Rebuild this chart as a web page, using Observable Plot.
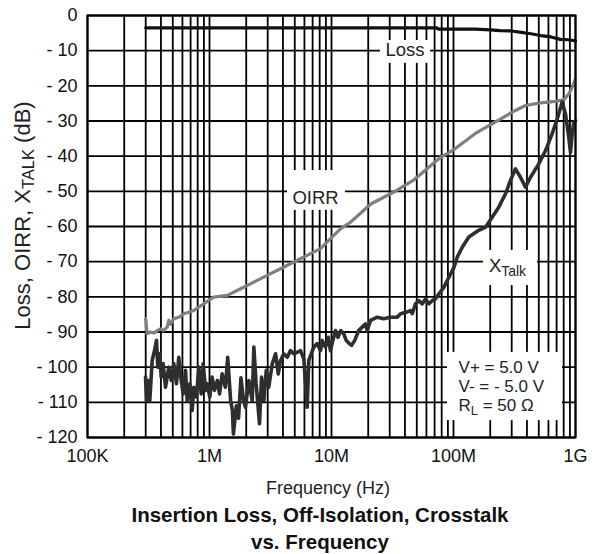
<!DOCTYPE html>
<html>
<head>
<meta charset="utf-8">
<script src="https://cdn.jsdelivr.net/npm/d3@7"></script>
<script src="https://cdn.jsdelivr.net/npm/@observablehq/plot@0.6"></script>
<style>
  body { margin: 0; background: #fff; overflow: hidden; }
  #wrap { width: 595px; position: relative; font-family: "Liberation Sans", Arial, sans-serif; }
  #chart svg { display: block; }
  #title { width: 640px; text-align: center; font-weight: bold; font-size: 20.5px; line-height: 26.5px; color: #111; padding-top: 1px; }
</style>
</head>
<body>
<div id="wrap"><div id="chart"></div><div id="title">Insertion Loss, Off-Isolation, Crosstalk<br>vs. Frequency</div></div>
<script>
// ---- Data ----
const lossFreq = [3e5, 1e6, 1e7, 7.2e7, 7.6e7, 1.5e8, 2.0e8, 2.4e8, 3.0e8, 3.6e8, 4.3e8, 5.2e8, 6.3e8, 7.5e8, 8.6e8, 9.6e8, 1e9];
const lossDb   = [-3.5, -3.5, -3.5, -3.5, -3.9, -3.9, -4.1, -4.3, -4.4, -4.8, -5.2, -5.7, -6.1, -6.8, -6.9, -7.1, -7.2];

const oirrFreq = [3.0e5, 3.08e5, 3.28e5, 3.49e5, 3.74e5, 3.96e5, 4.19e5, 4.5e5, 4.64e5, 4.79e5, 5.1e5, 5.6e5, 6.15e5, 6.76e5, 7.43e5, 8.16e5, 8.97e5, 9.85e5, 1.08e6, 1.4e6, 1.8e6, 2.31e6, 2.97e6, 3.82e6, 4.91e6, 6.32e6, 8.12e6, 1.045e7, 1.19e7, 1.43e7, 2.1e7, 3.24e7, 4.67e7, 7.8e7, 1.03e8, 1.5e8, 2.19e8, 3.22e8, 3.89e8, 5.0e8, 6.8e8, 8.0e8, 8.8e8, 9.4e8, 1e9];
const oirrDb   = [-86.2, -90.5, -90, -90.3, -89.6, -89.1, -89.6, -88.6, -86.7, -87.8, -86.2, -85.8, -84.8, -84.4, -83.9, -82.9, -82, -81, -80.1, -79.6, -77.7, -75.8, -73.9, -72, -70.1, -68.2, -66.3, -62.5, -60.6, -58.8, -53.6, -50.2, -46.9, -40.4, -37.9, -33.6, -30.3, -27, -25.6, -24.9, -24.4, -24, -22.3, -20.4, -18];

const xtalkFreq = [2.99e5, 3.045e5, 3.12e5, 3.24e5, 3.39e5, 3.54e5, 3.68e5, 3.77e5, 3.91e5, 4.02e5, 4.17e5, 4.36e5, 4.64e5, 4.86e5, 5.1e5, 5.36e5, 5.6e5, 5.86e5, 6.09e5, 6.36e5, 6.56e5, 6.9e5, 7.21e5, 7.44e5, 7.82e5, 8.17e5, 8.55e5, 8.88e5, 9.27e5, 9.57e5, 1.006e6, 1.05e6, 1.1e6, 1.16e6, 1.21e6, 1.27e6, 1.35e6, 1.41e6, 1.49e6, 1.54e6, 1.57e6, 1.66e6, 1.73e6, 1.81e6, 1.9e6, 1.97e6, 2.1e6, 2.24e6, 2.31e6, 2.41e6, 2.57e6, 2.67e6, 2.79e6, 2.92e6, 3.06e6, 3.27e6, 3.48e6, 3.66e6, 3.82e6, 4.06e6, 4.34e6, 4.61e6, 4.91e6, 5.57e6, 5.93e6, 6.32e6, 6.51e6, 7.16e6, 7.64e6, 8.12e6, 8.39e6, 8.93e6, 9.4e6, 9.81e6, 1.025e7, 1.08e7, 1.13e7, 1.19e7, 1.26e7, 1.32e7, 1.4e7, 1.46e7, 1.55e7, 1.67e7, 1.9e7, 1.96e7, 2.09e7, 2.37e7, 2.68e7, 3.04e7, 3.45e7, 3.68e7, 4.17e7, 4.44e7, 4.59e7, 4.88e7, 5.19e7, 5.54e7, 5.9e7, 6.27e7, 6.69e7, 7.12e7, 7.58e7, 8.33e7, 9.15e7, 1.006e8, 1.08e8, 1.18e8, 1.335e8, 1.61e8, 1.83e8, 2.08e8, 2.35e8, 2.67e8, 2.93e8, 3.22e8, 3.54e8, 3.89e8, 4.28e8, 5.0e8, 5.68e8, 6.44e8, 7.08e8, 7.78e8, 8.28e8, 8.81e8, 9.1e8, 9.4e8, 9.68e8, 1e9];
const xtalkDb   = [-102.8, -109.5, -103.8, -109.5, -98.1, -95.3, -92.4, -100, -96.2, -102.8, -99, -105.7, -100, -103.8, -99, -104.7, -97.2, -103.8, -107.6, -100.9, -109.5, -104.7, -112.3, -105.7, -108.5, -100, -107.6, -99, -106.6, -104.7, -108.5, -102.8, -106.6, -103.8, -107.6, -101.9, -105.7, -97.2, -109.5, -112.3, -119, -111, -114.5, -103, -109.5, -111.4, -103.8, -109.5, -94.3, -104.7, -116.1, -102.8, -109.5, -100.9, -105.7, -99, -96.2, -101.9, -98.1, -96.2, -97.2, -95.3, -96.2, -95.3, -97.6, -111.4, -98.1, -94.3, -93.3, -95.3, -92.4, -94.3, -91.5, -95.3, -92.4, -89.6, -91.5, -89.6, -90.5, -92.4, -93.3, -93.8, -92.4, -89.6, -87.7, -89.6, -86.7, -85.8, -86.2, -85.8, -85.8, -84.8, -84.3, -83.9, -84.8, -82, -81.1, -82, -80.6, -82, -81.1, -80.6, -79.2, -77.3, -74.5, -71.7, -68.5, -65.9, -63, -61.1, -60.2, -57.3, -54.5, -50.7, -46.9, -43.6, -46, -48.8, -46, -42.2, -38.4, -33.6, -29.4, -24.6, -28, -34.6, -38.9, -33.6, -30.3, -29.9];

// ---- Axes / ticks ----
const freqTicks = [1e5, 1e6, 1e7, 1e8, 1e9];
const freqTickLabels = ["100K", "1M", "10M", "100M", "1G"];
const dbTicks = [0, -10, -20, -30, -40, -50, -60, -70, -80, -90, -100, -110, -120];
const dbTickLabels = ["0", "- 10", "- 20", "- 30", "- 40", "- 50", "- 60", "- 70", "- 80", "- 90", "- 100", "- 110", "- 120"];

// ---- Annotations (in data units) ----
const labelText = ["Loss", "OIRR", "X_{Talk}"];
const labelFreq = [4.0e7, 7.4e6, 2.77e8];
const labelDb = [-9.8, -51.8, -71.2];
const condText = ["V+ = 5.0 V", "V- = - 5.0 V", "R_{L} = 50 Ω"];
const condFreq = [1.1e8, 1.1e8, 1.1e8];
const condDb = [-100.0, -105.5, -111.0];
const boxF1 = [2.52e7, 4.36e6, 1.76e8, 8.93e7];
const boxF2 = [6.48e7, 1.30e7, 4.88e8, 7.82e8];
const boxDb1 = [-7.1, -44.1, -66.8, -95.8];
const boxDb2 = [-13.6, -55.4, -76.8, -115.2];

const toRows = (fs, ds) => fs.map((f, i) => ({f, db: ds[i]}));
const loss = toRows(lossFreq, lossDb);
const oirr = toRows(oirrFreq, oirrDb);
const xtalk = toRows(xtalkFreq, xtalkDb);
const labels = labelText.map((t, i) => ({t, f: labelFreq[i], db: labelDb[i]}));
const conds = condText.map((t, i) => ({t, f: condFreq[i], db: condDb[i]}));
const boxes = boxF1.map((f1, i) => ({f1, f2: boxF2[i], d1: boxDb1[i], d2: boxDb2[i]}));
const gridFreqs = d3.scaleLog().domain([1e5, 1e9]).ticks();

const FONT = "Liberation Sans, Arial, Helvetica, sans-serif";

const chart = Plot.plot({
  width: 595,
  height: 501,
  marginLeft: 87,
  marginRight: 20,
  marginTop: 15,
  marginBottom: 64,
  style: {fontFamily: FONT, fontSize: "18px", color: "#111", background: "white", overflow: "visible"},
  x: {type: "log", domain: [1e5, 1e9], ticks: freqTicks, tickFormat: (d) => freqTickLabels[freqTicks.indexOf(d)], tickSize: 0, tickPadding: 12, label: null},
  y: {domain: [-120, 0], ticks: dbTicks, tickFormat: (d) => dbTickLabels[dbTicks.indexOf(d)], tickSize: 0, tickPadding: 10, label: null},
  marks: [
    Plot.ruleX(gridFreqs, {stroke: "#000", strokeWidth: 1.8}),
    Plot.ruleY(dbTicks, {stroke: "#000", strokeWidth: 1.8}),
    Plot.rect(boxes, {x1: "f1", x2: "f2", y1: "d1", y2: "d2", fill: "white"}),
    Plot.line(loss, {x: "f", y: "db", stroke: "#111", strokeWidth: 3.2}),
    Plot.line(oirr, {x: "f", y: "db", stroke: "#7f7f7f", strokeWidth: 3.2}),
    Plot.line(xtalk, {x: "f", y: "db", stroke: "#2e2e2e", strokeWidth: 3.6}),
    Plot.frame({stroke: "#000", strokeWidth: 2}),
    Plot.text(labels, {x: "f", y: "db", text: "t", fontSize: 18.5, fill: "#222"}),
    Plot.text(conds, {x: "f", y: "db", text: "t", fontSize: 17, textAnchor: "start", fill: "#222"}),
    Plot.text(["Frequency (Hz)"], {frameAnchor: "bottom", lineAnchor: "middle", textAnchor: "middle", dy: 51, dx: -3.5, fontSize: 18, fill: "#222"}),
    Plot.text(["Loss, OIRR, X_{TALK} (dB)"], {frameAnchor: "left", textAnchor: "middle", lineAnchor: "middle", dx: -65, dy: -11, rotate: -90, fontSize: 22, fill: "#222"})
  ]
});

// Convert _{...} into subscript tspans
d3.select(chart).selectAll("text").each(function () {
  const txt = this.textContent;
  if (!txt.includes("_{")) return;
  const parts = txt.split(/(_\{[^}]*\})/).filter(p => p.length);
  const sel = d3.select(this);
  sel.selectAll("*").remove();
  sel.text(null);
  let shifted = false;
  parts.forEach(p => {
    if (p.startsWith("_{")) {
      sel.append("tspan").attr("font-size", "0.75em").attr("dy", "4").text(p.slice(2, -1));
      shifted = true;
    } else {
      const ts = sel.append("tspan").text(p);
      if (shifted) { ts.attr("dy", "-4"); shifted = false; }
    }
  });
});

document.getElementById("chart").appendChild(chart);
</script>
</body>
</html>
